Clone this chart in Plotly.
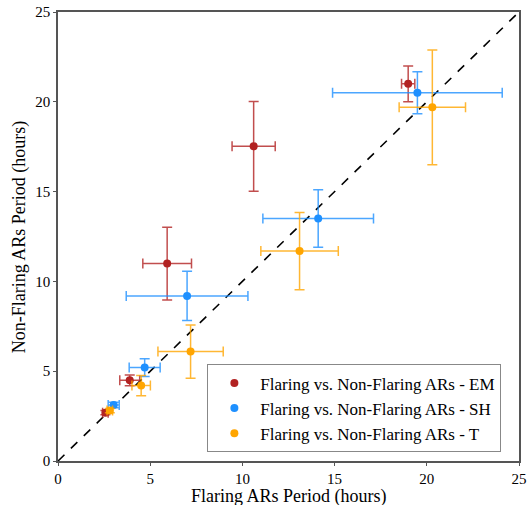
import plotly.graph_objects as go

# values (hours)
em_x = [2.57, 3.89, 5.92, 10.61, 18.99]
em_y = [2.69, 4.49, 10.99, 17.52, 21.0]
em_xerr = [0.15, 0.54, 1.32, 1.17, 0.36]
em_yerr = [0.12, 0.3, 2.02, 2.5, 1.0]

sh_x = [3.02, 4.70, 7.0, 14.11, 19.49]
sh_y = [3.12, 5.20, 9.19, 13.5, 20.51]
sh_xerr = [0.3, 0.84, 3.3, 3.0, 4.6]
sh_yerr = [0.15, 0.5, 1.37, 1.6, 1.17]

t_x = [2.81, 4.51, 7.19, 13.1, 20.3]
t_y = [2.81, 4.20, 6.09, 11.69, 19.69]
t_xerr = [0.15, 0.5, 1.77, 2.1, 1.8]
t_yerr = [0.12, 0.56, 1.48, 2.15, 3.2]

diag = [0, 25]

FONT = "Liberation Serif"


def err_trace(x, y, xerr, yerr, color, ecolor, name):
    return go.Scatter(
        x=x, y=y, mode="markers", name=name,
        marker=dict(color=color, size=8),
        error_x=dict(type="data", array=xerr, visible=True,
                     color=ecolor, thickness=1.5, width=5),
        error_y=dict(type="data", array=yerr, visible=True,
                     color=ecolor, thickness=1.5, width=5),
    )


fig = go.Figure()
fig.add_trace(go.Scatter(x=diag, y=diag, mode="lines", showlegend=False,
                         line=dict(color="black", dash="dash", width=1.6)))
fig.add_trace(err_trace(em_x, em_y, em_xerr, em_yerr, "#b22222",
                        "rgba(178,34,34,0.8)",
                        "Flaring vs. Non-Flaring ARs - EM"))
fig.add_trace(err_trace(sh_x, sh_y, sh_xerr, sh_yerr, "#1e90ff",
                        "rgba(30,144,255,0.8)",
                        "Flaring vs. Non-Flaring ARs - SH"))
fig.add_trace(err_trace(t_x, t_y, t_xerr, t_yerr, "#ffa500",
                        "rgba(255,165,0,0.8)",
                        "Flaring vs. Non-Flaring ARs - T"))

axis_style = dict(range=[0, 25], tickvals=[0, 5, 10, 15, 20, 25],
                  showgrid=False, zeroline=False, showline=True,
                  linecolor="#555", linewidth=1.5, mirror=True,
                  ticks="outside", ticklen=3, tickcolor="#555", automargin=False,
                  ticklabeloverflow="allow",
                  tickfont=dict(family=FONT, size=15, color="black"))

# axis titles as annotations so their place is fixed
fig.add_annotation(text="Flaring ARs Period (hours)", x=0.5, y=-0.079,
                   xref="paper", yref="paper", showarrow=False,
                   xanchor="center", yanchor="middle",
                   font=dict(family=FONT, size=18))
fig.add_annotation(text="Non-Flaring ARs Period (hours)", x=-0.083, y=0.5,
                   xref="paper", yref="paper", showarrow=False, textangle=-90,
                   xanchor="center", yanchor="middle",
                   font=dict(family=FONT, size=18))

fig.update_layout(
    width=528, height=505,
    margin=dict(l=58, r=9, t=12, b=44, autoexpand=False),
    plot_bgcolor="white", paper_bgcolor="white",
    font=dict(family=FONT, size=17, color="black"),
    xaxis=axis_style,
    yaxis=axis_style,
    legend=dict(x=0.324, y=0.019, xanchor="left", yanchor="bottom",
                bgcolor="white", bordercolor="#888", borderwidth=1,
                itemwidth=42, font=dict(family=FONT, size=17),
                tracegroupgap=0),
)

# drop the page's default body margin so the figure fills the window
fig.write_html("out.html", config={"displayModeBar": False},
               post_script="document.body.style.margin='0';"
                           "document.body.style.overflow='hidden';")
